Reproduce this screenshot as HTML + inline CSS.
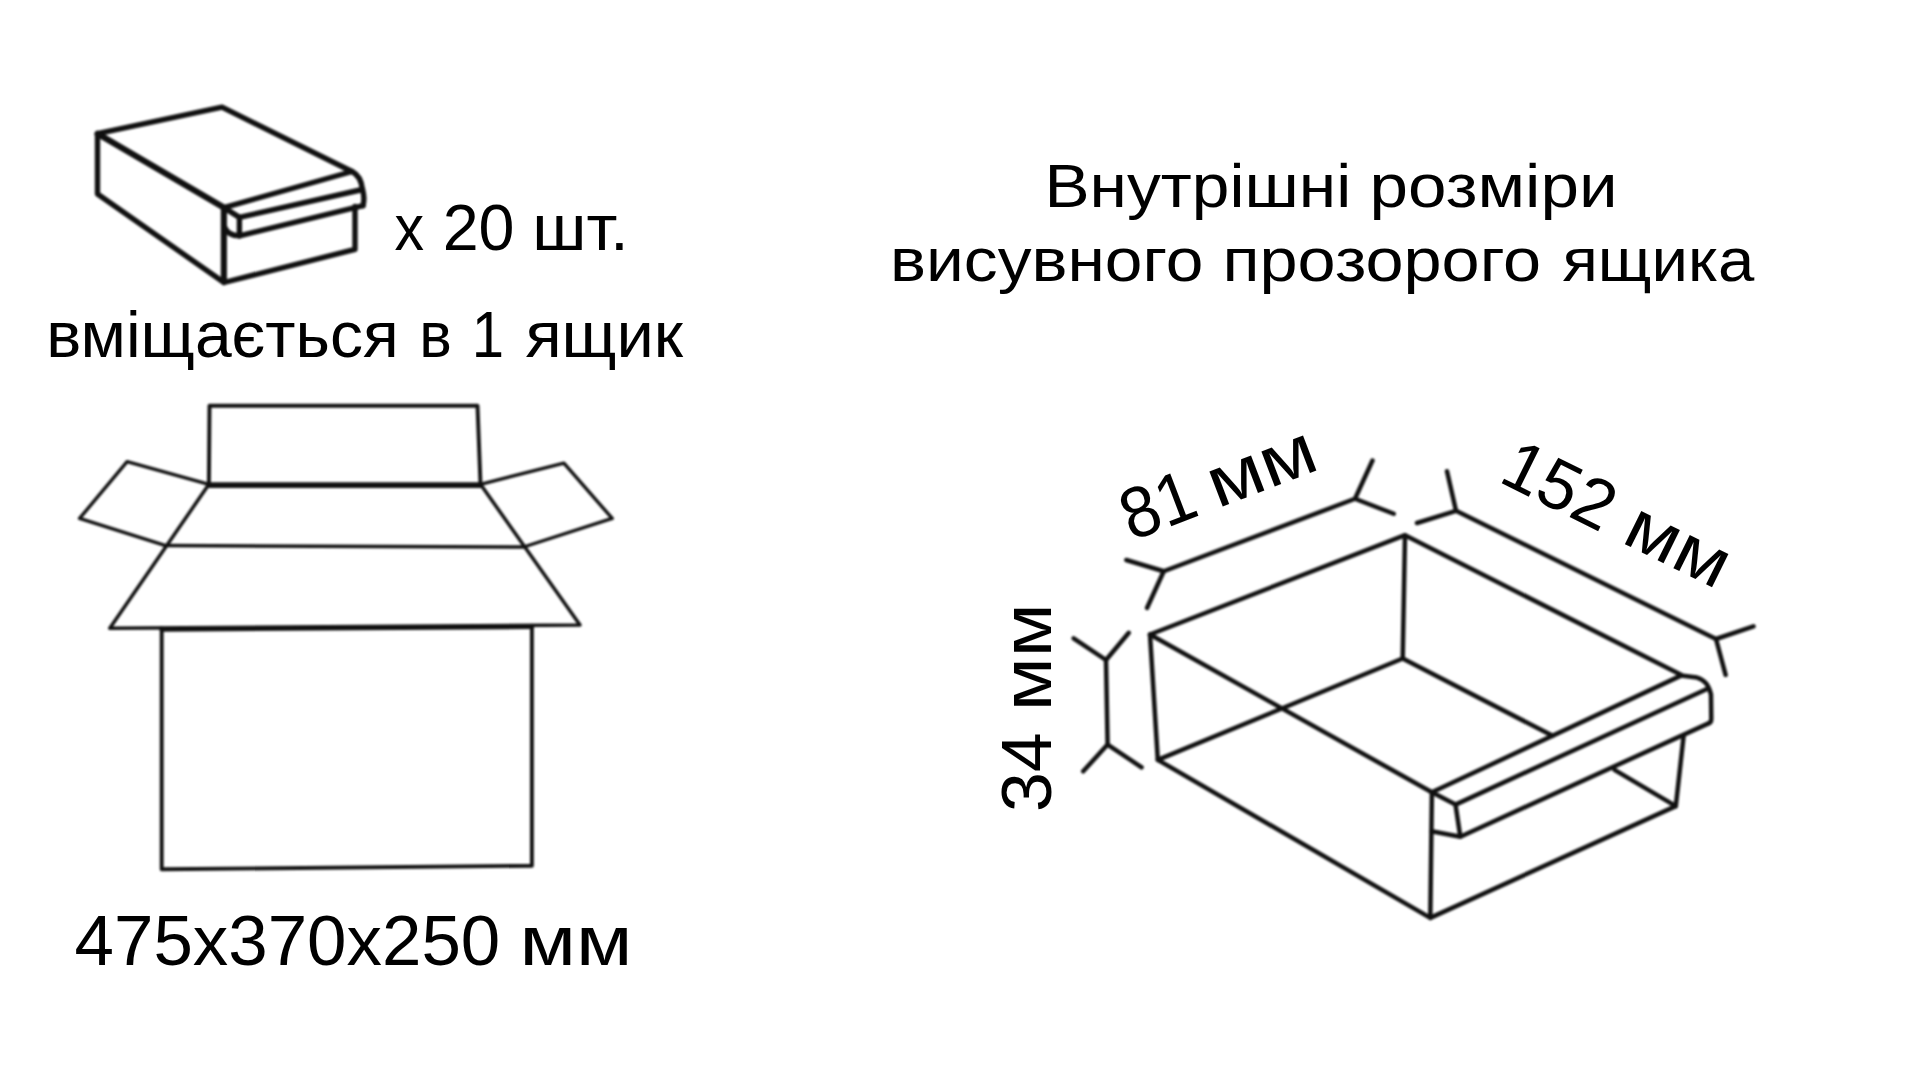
<!DOCTYPE html>
<html lang="uk">
<head>
<meta charset="utf-8">
<title>Внутрішні розміри висувного прозорого ящика</title>
<style>
  html, body { margin: 0; padding: 0; background: #ffffff; }
  body { width: 1920px; height: 1080px; overflow: hidden; font-family: "Liberation Sans", sans-serif; }
  svg { display: block; position: absolute; left: 0; top: 0; }
  .ln { fill: none; stroke: #101010; stroke-linecap: round; stroke-linejoin: round; }
  .ic { stroke-width: 5.4; }
  .bx { stroke-width: 3.9; }
  .dr { stroke-width: 4.5; }
  text { font-family: "Liberation Sans", sans-serif; fill: #000000; }
  .soft { filter: blur(0.9px); }
  .softt { filter: blur(0.45px); }
</style>
</head>
<body>
<svg width="1920" height="1080" viewBox="0 0 1920 1080">
  <rect x="0" y="0" width="1920" height="1080" fill="#ffffff"/>
  <g class="soft">

  <!-- ===== small drawer icon ===== -->
  <g class="ln ic">
    <path d="M97.5 133.7 L222 107.1 L352 171.5 L224 207.6 Z"/>
    <path d="M97.5 133.7 L97.5 194 L224 282.5 L224 207.6"/>
    <path d="M97.5 133.7 L224 207.6" stroke-width="6"/>
    <path d="M223.8 208 L223.8 281" stroke-width="6"/>
    <path d="M224 282.5 L355 249.4 L355 206.5"/>
    <path d="M352 171.5 Q361 176 362.5 189.5 Q365 198 363 205.7"/>
    <path d="M239.4 217.4 L362.5 189.5"/>
    <path d="M239.4 235.8 L363 205.7"/>
    <path d="M224 207.6 L239.4 217.4 L239.4 235.8"/>
    <path d="M224 226 Q228 236 239.4 235.8"/>
  </g>

  <!-- ===== cardboard box ===== -->
  <g class="ln bx">
    <path d="M209.5 405.7 L477.5 405.7 L480.5 484.3 L208.9 484.3 Z"/>
    <path d="M208.9 485.4 L480.5 485.4" stroke-width="5"/>
    <path d="M208.9 484.3 L127.1 461.6 L79.6 518.4 L165.7 545.6" stroke-width="3.4"/>
    <path d="M480.5 484.3 L563.9 463.1 L612.2 518.4 L525.2 546.5" stroke-width="3.4"/>
    <path d="M208.9 484.3 L109.8 628.2 L580 625 L480.5 484.3" stroke-width="3.5"/>
    <path d="M165.7 545.6 L525.2 547.1" stroke-width="3.5"/>
    <path d="M161.7 628.3 L161.7 869.3 L531.9 865.7 L531.9 625.6"/>
    <path d="M161.7 629.3 L531.9 626.7" stroke-width="4.8"/>
  </g>

  <!-- ===== big drawer ===== -->
  <g class="ln dr">
    <!-- top rim -->
    <path d="M1150 634.5 L1405 535.2 L1681 674.8"/>
    <path d="M1150 634.5 L1431.9 792.3"/>
    <!-- left face -->
    <path d="M1150 634.5 L1157.8 759.9 L1430.3 917.9 L1431.9 792.3"/>
    <!-- back verticals & floor -->
    <path d="M1405 535.2 L1402.7 658.5"/>
    <path d="M1157.8 759.9 L1402.7 658.5 L1552.6 735.8"/>
    <path d="M1614.5 769.9 L1675.8 806.1"/>
    <!-- right/front face -->
    <path d="M1430.3 917.9 L1675.8 806.1 L1683.7 735.3"/>
    <!-- handle -->
    <path d="M1431.9 792.3 L1681 675.6 L1697 677.6 Q1708 680.5 1711 694.5 L1711.3 719 Q1711.3 722.8 1708 723.6"/>
    <path d="M1455.5 804.6 L1707 689"/>
    <path d="M1460.3 836.7 L1708 723.6"/>
    <path d="M1431.9 792.3 L1455.5 804.6 L1460.3 836.7 L1431.5 831.3"/>
  </g>

  <!-- ===== dimension lines ===== -->
  <g class="ln dr">
    <!-- 81 -->
    <path d="M1163.75 571.25 L1355 498.75"/>
    <path d="M1126.25 560 L1163.75 571.25 L1147 608"/>
    <path d="M1372.5 460.5 L1355 498.75 L1393.75 513.75"/>
    <!-- 152 -->
    <path d="M1456 510.8 L1716 639"/>
    <path d="M1447 471.25 L1456 510.8 L1417 523"/>
    <path d="M1753.5 626.3 L1716 639 L1725.6 674.9"/>
    <!-- 34 -->
    <path d="M1106 660 L1107.6 744.6"/>
    <path d="M1073.6 638.3 L1106 660 L1128.8 632.8"/>
    <path d="M1083.2 771.3 L1107.6 744.6 L1141.6 767.3"/>
  </g>

  </g>
  <!-- ===== text ===== -->
  <g class="softt">
  <text x="394.40" y="250.00" font-size="65" textLength="29.55" lengthAdjust="spacingAndGlyphs">x</text>
  <text x="442.72" y="250.00" font-size="65" textLength="71.82" lengthAdjust="spacingAndGlyphs">20</text>
  <text x="532.34" y="250.00" font-size="65" textLength="96.41" lengthAdjust="spacingAndGlyphs">шт.</text>
  <text x="46.24" y="356.50" font-size="65" textLength="352.42" lengthAdjust="spacingAndGlyphs">вміщається</text>
  <text x="419.23" y="356.50" font-size="65" textLength="32.56" lengthAdjust="spacingAndGlyphs">в</text>
  <text x="471.83" y="356.50" font-size="65" textLength="32.29" lengthAdjust="spacingAndGlyphs">1</text>
  <text x="525.40" y="356.50" font-size="65" textLength="157.72" lengthAdjust="spacingAndGlyphs">ящик</text>
  <text x="74.59" y="965.30" font-size="70" textLength="425.67" lengthAdjust="spacingAndGlyphs">475x370x250</text>
  <text x="519.51" y="965.30" font-size="70" textLength="112.82" lengthAdjust="spacingAndGlyphs">мм</text>
  <text x="1044.45" y="207.00" font-size="61" textLength="306.79" lengthAdjust="spacingAndGlyphs">Внутрішні</text>
  <text x="1369.60" y="207.00" font-size="61" textLength="248.03" lengthAdjust="spacingAndGlyphs">розміри</text>
  <text x="890.06" y="280.50" font-size="61" textLength="313.33" lengthAdjust="spacingAndGlyphs">висувного</text>
  <text x="1222.51" y="280.50" font-size="61" textLength="318.65" lengthAdjust="spacingAndGlyphs">прозорого</text>
  <text x="1562.50" y="280.50" font-size="61" textLength="191.92" lengthAdjust="spacingAndGlyphs">ящика</text>
  <g transform="translate(1316.5 470.6) rotate(-20.9)">
    <text x="-198.00" y="0.00" font-size="72" textLength="74.85" lengthAdjust="spacingAndGlyphs">81</text>
    <text x="-106.07" y="0.00" font-size="71" textLength="111.57" lengthAdjust="spacingAndGlyphs">мм</text>
  </g>
  <g transform="translate(1712.6 587.6) rotate(26.3)">
    <text x="-240.58" y="0.00" font-size="70" textLength="116.40" lengthAdjust="spacingAndGlyphs">152</text>
    <text x="-103.28" y="0.00" font-size="70" textLength="107.91" lengthAdjust="spacingAndGlyphs">мм</text>
  </g>
  <g transform="translate(1051.1 607.8) rotate(-90)">
    <text x="-204.25" y="0.00" font-size="70" textLength="79.62" lengthAdjust="spacingAndGlyphs">34</text>
    <text x="-103.39" y="0.00" font-size="70" textLength="108.02" lengthAdjust="spacingAndGlyphs">мм</text>
  </g>
  </g>
</svg>
</body>
</html>
